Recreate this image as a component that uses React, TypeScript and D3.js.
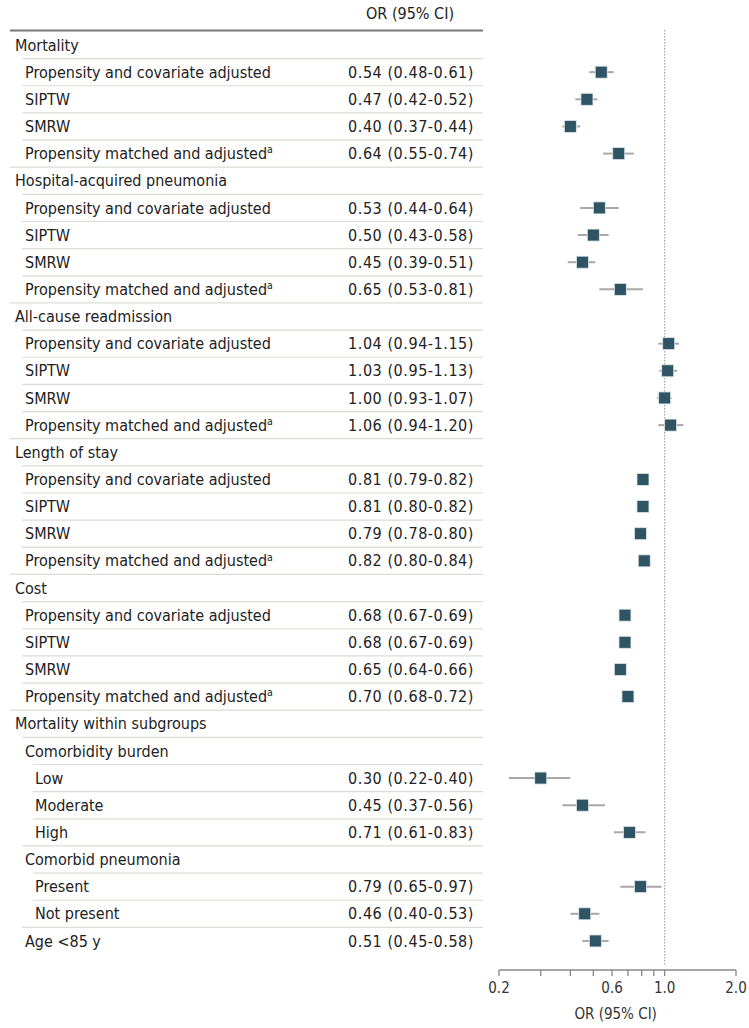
import React from "react";
import * as d3 from "d3";

const labels = [
  "Mortality",
  "Propensity and covariate adjusted",
  "SIPTW",
  "SMRW",
  "Propensity matched and adjusted",
  "Hospital-acquired pneumonia",
  "Propensity and covariate adjusted",
  "SIPTW",
  "SMRW",
  "Propensity matched and adjusted",
  "All-cause readmission",
  "Propensity and covariate adjusted",
  "SIPTW",
  "SMRW",
  "Propensity matched and adjusted",
  "Length of stay",
  "Propensity and covariate adjusted",
  "SIPTW",
  "SMRW",
  "Propensity matched and adjusted",
  "Cost",
  "Propensity and covariate adjusted",
  "SIPTW",
  "SMRW",
  "Propensity matched and adjusted",
  "Mortality within subgroups",
  "Comorbidity burden",
  "Low",
  "Moderate",
  "High",
  "Comorbid pneumonia",
  "Present",
  "Not present",
  "Age <85 y",
];
const levels = [0, 1, 1, 1, 1, 0, 1, 1, 1, 1, 0, 1, 1, 1, 1, 0, 1, 1, 1, 1, 0, 1, 1, 1, 1, 0, 1, 2, 2, 2, 1, 2, 2, 1];
const footnote = [false, false, false, false, true, false, false, false, false, true, false, false, false, false, true, false, false, false, false, true, false, false, false, false, true, false, false, false, false, false, false, false, false, false];
const ors: (number | null)[] = [null, 0.54, 0.47, 0.40, 0.64, null, 0.53, 0.50, 0.45, 0.65, null, 1.04, 1.03, 1.00, 1.06, null, 0.81, 0.81, 0.79, 0.82, null, 0.68, 0.68, 0.65, 0.70, null, null, 0.30, 0.45, 0.71, null, 0.79, 0.46, 0.51];
const lows: (number | null)[] = [null, 0.48, 0.42, 0.37, 0.55, null, 0.44, 0.43, 0.39, 0.53, null, 0.94, 0.95, 0.93, 0.94, null, 0.79, 0.80, 0.78, 0.80, null, 0.67, 0.67, 0.64, 0.68, null, null, 0.22, 0.37, 0.61, null, 0.65, 0.40, 0.45];
const highs: (number | null)[] = [null, 0.61, 0.52, 0.44, 0.74, null, 0.64, 0.58, 0.51, 0.81, null, 1.15, 1.13, 1.07, 1.20, null, 0.82, 0.82, 0.80, 0.84, null, 0.69, 0.69, 0.66, 0.72, null, null, 0.40, 0.56, 0.83, null, 0.97, 0.53, 0.58];
const tickValues = [0.2, 0.3, 0.4, 0.5, 0.6, 0.7, 0.8, 0.9, 1.0, 2.0];
const tickLabels = ["0.2", "", "", "", "0.6", "", "", "", "1.0", "2.0"];

const FONT = "'DejaVu Sans Condensed', 'DejaVu Sans', sans-serif";

export default function App() {
  const W = 749;
  const H = 1028;
  const x = d3.scaleLog().domain([0.2, 2.0]).range([499, 736]);
  const rowStep = 27.15;
  const y0 = 45;
  const y = (i: number) => y0 + i * rowStep;
  const indent = [15, 25, 35];
  const lineStart = [10, 22, 33];
  const fmt = d3.format(".2f");
  const axisY = 970;
  const marker = "#2f5565";
  const textColor = "#222";

  return (
    <svg width={W} height={H} style={{ position: "absolute", left: 0, top: 0, background: "#fff" }} fontFamily={FONT}>
      <text x={410} y={19} textAnchor="middle" fontSize={16} fill={textColor}>OR (95% CI)</text>
      <line x1={10} x2={483} y1={30.5} y2={30.5} stroke="#777" strokeWidth={1.8} />
      {labels.map((lab, i) => (
        <g key={i}>
          {i > 0 && (
            <line x1={lineStart[levels[i]]} x2={483} y1={y(i) - rowStep / 2} y2={y(i) - rowStep / 2} stroke="#dcdcd6" strokeWidth={1.2} />
          )}
          <text x={indent[levels[i]]} y={y(i)} dy="0.35em" fontSize={16} fill={textColor}>
            {lab}
            {footnote[i] && <tspan fontSize={10.5} dy="-0.55em">a</tspan>}
          </text>
          {ors[i] != null && (
            <text x={474} y={y(i)} dy="0.35em" fontSize={16} letterSpacing={0.55} textAnchor="end" fill={textColor}>
              {`${fmt(ors[i] as number)} (${fmt(lows[i] as number)}-${fmt(highs[i] as number)})`}
            </text>
          )}
        </g>
      ))}
      <line x1={x(1)} x2={x(1)} y1={30} y2={axisY - 4} stroke="#999" strokeWidth={1} strokeDasharray="1.5,1.5" />
      {ors.map((v, i) =>
        v == null ? null : (
          <g key={"m" + i}>
            <line x1={x(lows[i] as number)} x2={x(highs[i] as number)} y1={y(i)} y2={y(i)} stroke="#a8a8a8" strokeWidth={2} />
            <rect x={x(v) - 6} y={y(i) - 6} width={12} height={12} fill={marker} stroke="#dfe8ea" strokeWidth={0.8} />
          </g>
        )
      )}
      <line x1={x(0.2)} x2={x(2.0)} y1={axisY} y2={axisY} stroke="#888" strokeWidth={1.3} />
      {tickValues.map((t, k) => (
        <g key={"t" + k}>
          <line x1={x(t)} x2={x(t)} y1={axisY} y2={axisY + 6} stroke="#888" strokeWidth={1.3} />
          <text x={x(t)} y={axisY + 23} textAnchor="middle" fontSize={15} fill="#333">{tickLabels[k]}</text>
        </g>
      ))}
      <text x={x(1) - 49} y={1019} textAnchor="middle" fontSize={15} fill="#333">OR (95% CI)</text>
    </svg>
  );
}
